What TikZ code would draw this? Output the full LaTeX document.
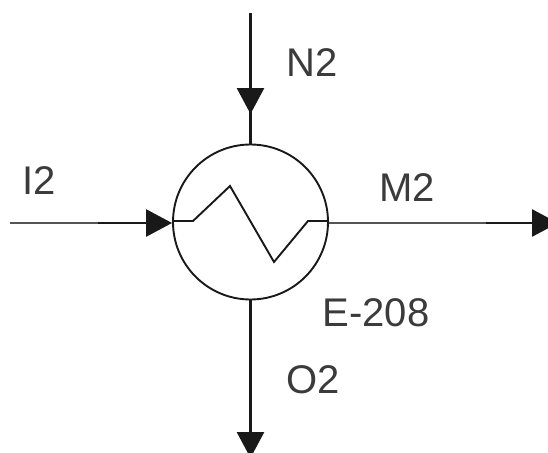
\documentclass[tikz,border=0pt]{standalone}
\usepackage{fontspec}
\setmainfont{Liberation Sans}
\usetikzlibrary{arrows.meta, positioning, calc}
\definecolor{DG}{RGB}{25,25,25}
\definecolor{MG}{RGB}{85,85,85}
\begin{document}
\begin{tikzpicture}[x=1pt,y=-1pt,
  stream/.style={draw=DG, line width=2.1pt},
  faint/.style={draw=MG, line width=2.5pt},
  tip/.style={draw=DG, line width=2.8pt, -{Triangle[length=26pt,width=27pt]}},
  hdr/.style={font=\fontsize{40}{44}\selectfont, text=DG!85, inner sep=0pt}
]
\useasboundingbox (0,0) rectangle (548,452);
% Exchanger shell
\node[circle, draw=DG, line width=1.9pt, minimum size=155pt, inner sep=0pt] (shell) at (250.5,222) {};
% Free ends of the streams
\coordinate (top) at (250.5,13);
\coordinate (topTip) at (250.5,114);
\coordinate (bottom) at (250.5,458);
\coordinate (left) at (10,223);
\coordinate (leftMid) at (98,223);
\coordinate (right) at (558,223);
\coordinate (rightMid) at (486,223);
% Streams
\draw[stream] (top) -- (shell.north);
\draw[tip] (250.5,80) -- (topTip);
\draw[stream] (shell.south) -- (bottom);
\draw[tip] (250.5,410) -- (bottom);
\draw[faint] (left) -- (leftMid);
\draw[tip] (leftMid) -- (shell.west |- left);
\draw[faint] (shell.east |- rightMid) -- (rightMid);
\draw[tip] (rightMid) -- (right);
% Tube zigzag
\draw[DG, line width=1.9pt] (shell.west |- 0,221) -- (193,221) -- (230,186) -- (274,262) -- (308,221) -- (shell.east |- 0,221);
% Labels
\node[hdr] (lblN) at (312.5,62.5) {N2};
\node[hdr] (lblI) at (39.5,181) {I2};
\node[hdr] (lblM) at (407,187.5) {M2};
\node[hdr] (lblE) at (376,313) {E-208};
\node[hdr] (lblO) at (313,380) {O2};
\end{tikzpicture}
\end{document}
